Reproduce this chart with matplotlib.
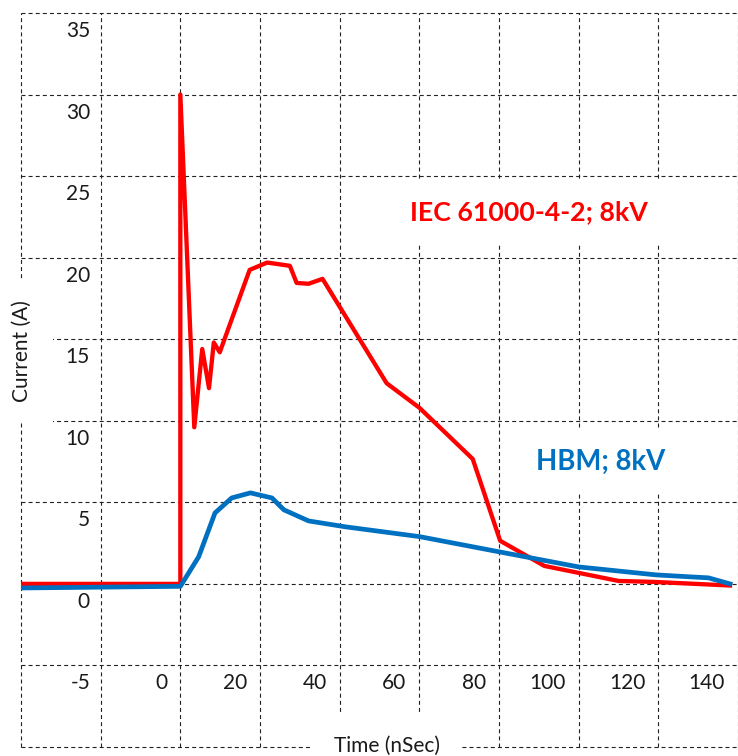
import matplotlib
matplotlib.use("Agg")
import matplotlib.pyplot as plt
import matplotlib.transforms as mtransforms

plt.rcParams['font.family'] = ['Lato', 'DejaVu Sans']

#### data (time in ns, current in A)

iec_t = [-40, 0, 0, 3.5, 5.5, 7.2, 8.4, 9.9, 17.4, 21.8, 27.5, 29.2, 32.2, 35.7,
         51.8, 60, 73.4, 80.3, 91.4, 110, 119, 138]
iec_i = [0, 0, 30.0, 9.6, 14.4, 12.0, 14.8, 14.2, 19.25, 19.7, 19.5, 18.45, 18.4, 18.7,
         12.3, 10.8, 7.66, 2.64, 1.1, 0.18, 0.12, -0.1]

hbm_t = [-40, 0, 4.6, 8.7, 12.9, 17.6, 23, 26, 32.2, 41.4, 60, 79.3, 100, 119.5, 132.6, 138]
hbm_i = [-0.25, -0.15, 1.66, 4.35, 5.27, 5.58, 5.27, 4.54, 3.86, 3.5, 2.9, 2.0, 1.04, 0.55, 0.37, 0.0]

x_grid = [-40, -20, 0, 20, 40, 60, 80, 100, 120, 140]
x_labels = ['', '', '0', '20', '40', '60', '80', '100', '120', '140']
y_grid = [-10, -5, 0, 5, 10, 15, 20, 25, 30, 35]
y_labels = ['', '-5', '0', '5', '10', '15', '20', '25', '30', '35']

iec_label = "IEC 61000-4-2; 8kV"
hbm_label = "HBM; 8kV"

red = '#FF0000'
blue = '#0070C0'
ink = '#1a1a1a'

W, H, DPI = 738, 756, 100
fig = plt.figure(figsize=(W / DPI, H / DPI), dpi=DPI)
ax = fig.add_axes([21 / W, 9 / H, (W - 21) / W, (747 - 13) / H])

# -40 sits on the left edge, 0 on the spike gridline (x=183 px)
ax.set_xlim(-40, -40 + (W - 21) / 4.045)
ax.set_ylim(-10, 35)

for s in ax.spines.values():
    s.set_visible(False)
ax.set_xticks(x_grid)
ax.set_yticks(y_grid)
ax.tick_params(length=0, labelbottom=False, labelleft=False)
ax.grid(True, color='#222222', lw=0.8, linestyle=(0, (3.6, 2.8)), clip_on=False)
ax.set_axisbelow(True)

ax.plot(iec_t, iec_i, color=red, lw=3.1, solid_joinstyle='round', zorder=3)
ax.plot(hbm_t, hbm_i, color=blue, lw=3.4, solid_joinstyle='round', zorder=3)

# tick labels sit down/left of the gridlines
ylab_tr = mtransforms.blended_transform_factory(ax.transAxes, ax.transData) + \
    mtransforms.ScaledTranslation(69 / DPI, -16 / DPI, fig.dpi_scale_trans)
for v, lab in zip(y_grid, y_labels):
    ax.text(0, v, lab, transform=ylab_tr, ha='right', va='center_baseline',
            fontsize=15, color=ink)

xlab_tr = ax.transData + mtransforms.ScaledTranslation(-13 / DPI, -16 / DPI, fig.dpi_scale_trans)
for v, lab in zip(x_grid, x_labels):
    ax.text(v, -5, lab, transform=xlab_tr, ha='right', va='center_baseline',
            fontsize=15, color=ink)

box = dict(boxstyle='square,pad=1.0', fc='white', ec='none')

ax.text(22 / W, 1 - 351 / H, "Current (A)", transform=fig.transFigure, rotation=90,
        ha='center', va='center', fontsize=15, color=ink, bbox=box, zorder=5, clip_on=False)
ax.text(387 / W, 4 / H, "Time (nSec)", transform=fig.transFigure,
        ha='center', va='baseline', fontsize=15, color=ink, bbox=box, zorder=5, clip_on=False)

ax.text(87.6, 22.8, iec_label, ha='center', va='center', fontsize=19.3, fontweight='bold',
        color=red, bbox=dict(boxstyle='square,pad=0.7', fc='white', ec='none'), zorder=5)
ax.text(105.5, 7.5, hbm_label, ha='center', va='center', fontsize=19.8, fontweight='bold',
        color=blue, bbox=dict(boxstyle='square,pad=0.7', fc='white', ec='none'), zorder=5)

fig.savefig('out.png', dpi=DPI)
